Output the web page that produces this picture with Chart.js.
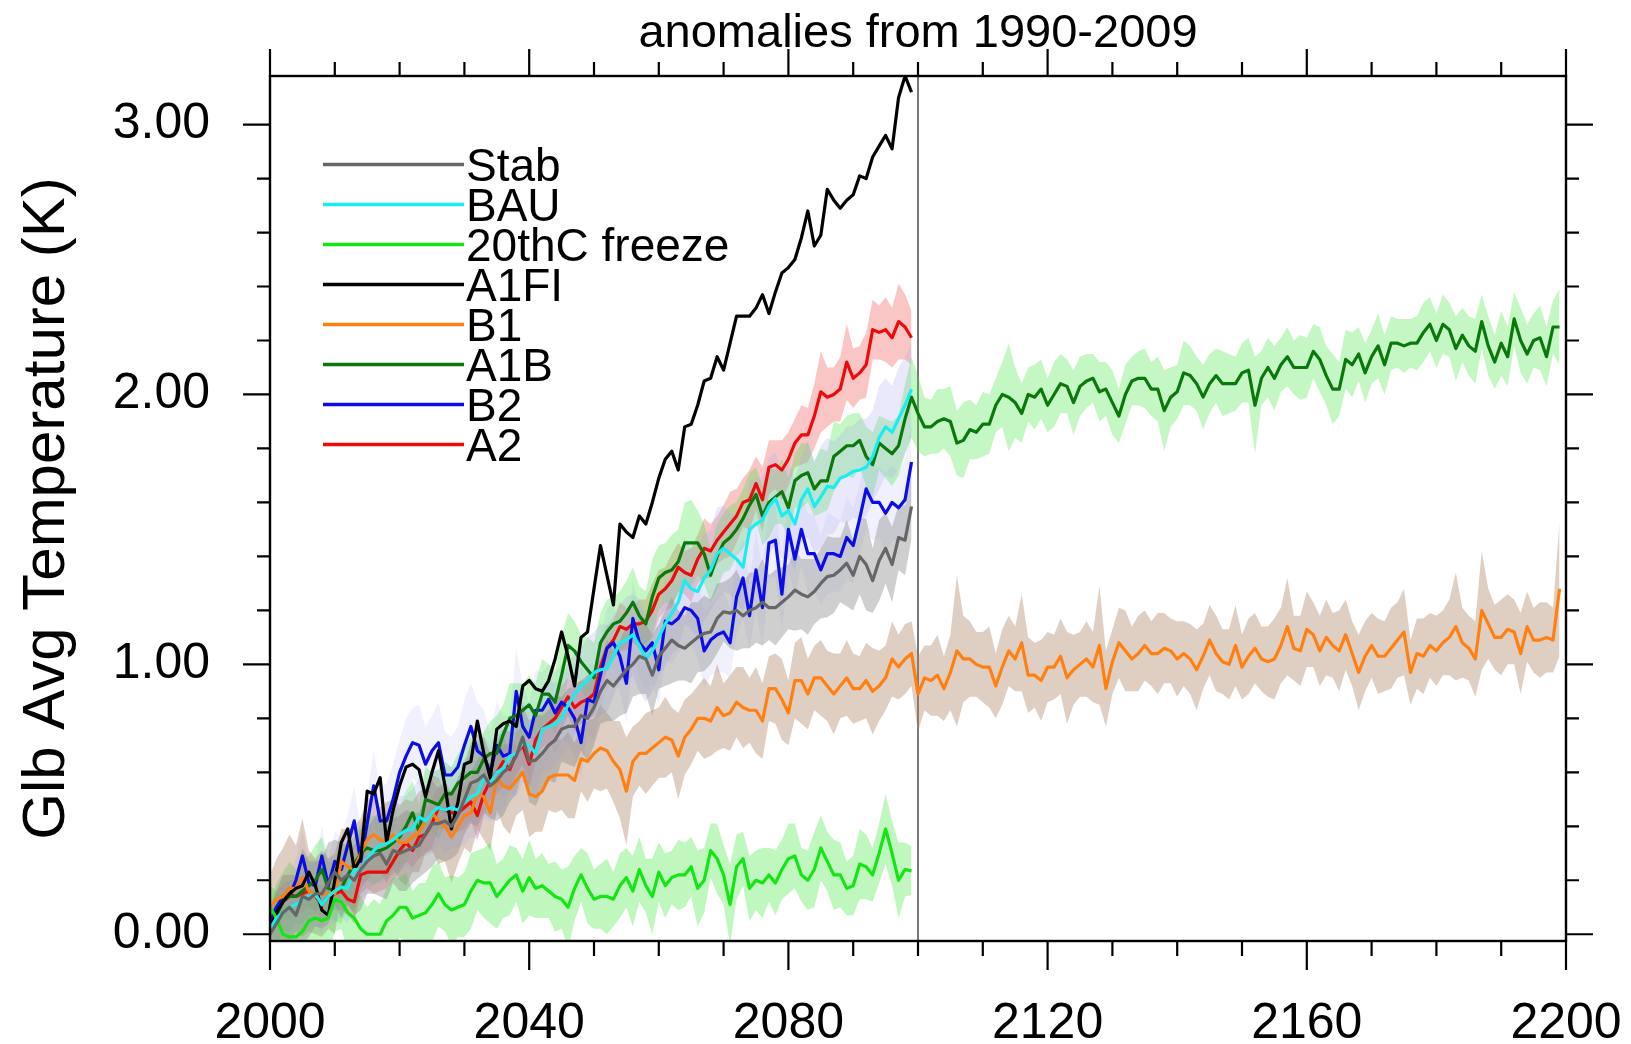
<!DOCTYPE html>
<html><head><meta charset="utf-8">
<script src="https://cdn.jsdelivr.net/npm/chart.js@4.4.1/dist/chart.umd.min.js"></script>
<style>html,body{margin:0;padding:0;background:#fff;overflow:hidden}#wrap{width:1631px;height:1044px;position:relative}</style>
</head><body><div id="wrap"><canvas id="c"></canvas></div>
<script>
const START_YEAR = 2000;
const DIVIDER_YEAR = 2100;
const xTickLabels = [2000, 2040, 2080, 2120, 2160, 2200];
const yTickLabels = [0, 1, 2, 3];
const chartTitle = 'anomalies from 1990-2009';
const yTitle = 'Glb Avg Temperature (K)';
const legendNames = ['Stab', 'BAU', '20thC freeze', 'A1FI', 'B1', 'A1B', 'B2', 'A2'];

const stab = [
0.00,0.04,0.08,0.10,0.07,0.14,0.13,0.15,0.15,0.19,
0.23,0.20,0.22,0.20,0.24,0.27,0.29,0.30,0.26,0.31,
0.30,0.31,0.32,0.33,0.37,0.41,0.41,0.42,0.40,0.44,
0.50,0.56,0.57,0.59,0.55,0.57,0.60,0.62,0.66,0.73,
0.64,0.645,0.67,0.70,0.72,0.76,0.77,0.77,0.81,0.80,
0.84,0.90,0.94,0.92,0.95,0.98,1.00,1.03,1.02,0.96,
1.03,1.06,1.09,1.07,1.06,1.08,1.10,1.115,1.12,1.17,
1.195,1.19,1.20,1.18,1.20,1.21,1.23,1.21,1.21,1.23,
1.25,1.275,1.26,1.25,1.27,1.30,1.325,1.33,1.35,1.375,
1.33,1.40,1.37,1.31,1.385,1.43,1.37,1.47,1.46,1.585];
const stabSpread = [
0.10,0.12,0.14,0.12,0.15,0.18,0.14,0.12,0.13,0.15,
0.12,0.14,0.11,0.13,0.15,0.12,0.14,0.16,0.13,0.12,
0.14,0.15,0.13,0.12,0.14,0.16,0.13,0.15,0.12,0.14,
0.13,0.15,0.17,0.14,0.12,0.15,0.16,0.13,0.14,0.12,
0.15,0.17,0.14,0.13,0.16,0.12,0.14,0.15,0.13,0.16,
0.14,0.12,0.15,0.13,0.14,0.16,0.12,0.14,0.13,0.15,
0.12,0.14,0.16,0.13,0.12,0.15,0.13,0.14,0.12,0.13,
0.11,0.13,0.15,0.12,0.14,0.13,0.16,0.12,0.14,0.13,
0.12,0.15,0.13,0.14,0.12,0.13,0.15,0.14,0.12,0.16,
0.13,0.14,0.17,0.12,0.15,0.13,0.14,0.12,0.13,0.12];

const bau = [
0.02,0.06,0.08,0.10,0.11,0.13,0.14,0.15,0.11,0.14,
0.16,0.175,0.17,0.24,0.24,0.28,0.31,0.33,0.336,0.35,
0.37,0.385,0.39,0.435,0.42,0.45,0.47,0.46,0.47,0.46,
0.49,0.51,0.52,0.58,0.56,0.60,0.615,0.66,0.67,0.71,
0.70,0.67,0.76,0.77,0.78,0.80,0.85,0.89,0.92,0.94,
0.97,0.98,0.985,1.03,1.08,1.09,1.11,1.07,1.02,1.05,
1.10,1.15,1.19,1.23,1.31,1.28,1.27,1.32,1.35,1.41,
1.43,1.41,1.39,1.36,1.50,1.52,1.535,1.585,1.615,1.55,
1.57,1.52,1.61,1.65,1.585,1.62,1.66,1.655,1.69,1.70,
1.715,1.72,1.73,1.77,1.84,1.88,1.86,1.91,1.96,2.02];
const bauSpread = [
0.06,0.08,0.09,0.10,0.09,0.11,0.10,0.12,0.11,0.10,
0.12,0.11,0.13,0.12,0.11,0.13,0.12,0.14,0.13,0.12,
0.14,0.13,0.15,0.14,0.13,0.15,0.14,0.16,0.15,0.14,
0.16,0.15,0.17,0.15,0.14,0.16,0.15,0.14,0.16,0.15,
0.14,0.16,0.15,0.17,0.15,0.14,0.16,0.15,0.14,0.16,
0.15,0.17,0.16,0.15,0.14,0.16,0.15,0.17,0.16,0.15,
0.14,0.16,0.15,0.17,0.16,0.15,0.17,0.16,0.15,0.17,
0.16,0.15,0.17,0.16,0.18,0.17,0.16,0.18,0.17,0.16,
0.18,0.17,0.16,0.18,0.17,0.19,0.18,0.17,0.16,0.18,
0.17,0.19,0.18,0.17,0.19,0.18,0.17,0.19,0.18,0.17];

const freeze = [
0.10,0.06,0.00,-0.01,-0.01,0.01,0.05,0.06,0.05,0.06,
0.13,0.12,0.08,0.06,0.02,0.00,0.00,0.00,0.05,0.07,
0.10,0.10,0.06,0.07,0.08,0.11,0.15,0.11,0.09,0.10,
0.11,0.16,0.20,0.19,0.19,0.14,0.17,0.20,0.22,0.16,
0.21,0.17,0.18,0.16,0.14,0.13,0.10,0.17,0.22,0.17,
0.13,0.14,0.14,0.13,0.18,0.21,0.16,0.24,0.18,0.14,
0.23,0.18,0.21,0.22,0.22,0.25,0.17,0.20,0.31,0.28,
0.22,0.11,0.25,0.28,0.17,0.20,0.19,0.22,0.19,0.24,
0.28,0.29,0.22,0.20,0.24,0.32,0.27,0.22,0.22,0.17,
0.18,0.26,0.25,0.22,0.30,0.39,0.30,0.20,0.24,0.235];
const freezeSpread = [
0.08,0.10,0.12,0.10,0.11,0.13,0.10,0.12,0.11,0.13,
0.12,0.10,0.14,0.11,0.12,0.10,0.13,0.11,0.12,0.14,
0.11,0.13,0.10,0.12,0.11,0.14,0.12,0.10,0.13,0.11,
0.12,0.14,0.11,0.13,0.15,0.12,0.11,0.13,0.10,0.12,
0.14,0.11,0.12,0.10,0.13,0.11,0.15,0.12,0.10,0.13,
0.11,0.12,0.14,0.10,0.12,0.11,0.13,0.12,0.10,0.14,
0.11,0.12,0.10,0.13,0.12,0.11,0.14,0.12,0.10,0.13,
0.11,0.15,0.12,0.10,0.12,0.11,0.13,0.10,0.12,0.11,
0.13,0.12,0.10,0.11,0.14,0.12,0.11,0.13,0.12,0.10,
0.11,0.13,0.12,0.10,0.11,0.13,0.12,0.14,0.10,0.09];

const a1fi = [
0.02,0.08,0.12,0.15,0.17,0.18,0.23,0.18,0.09,0.07,
0.20,0.34,0.39,0.24,0.28,0.53,0.52,0.58,0.34,0.46,
0.55,0.62,0.63,0.61,0.51,0.60,0.68,0.55,0.39,0.49,
0.63,0.64,0.79,0.67,0.58,0.76,0.78,0.79,0.77,0.92,
0.94,0.91,0.90,0.94,1.02,1.12,1.03,0.92,1.10,1.12,
1.28,1.44,1.33,1.22,1.52,1.49,1.47,1.55,1.52,1.60,
1.69,1.76,1.79,1.72,1.88,1.89,1.96,2.05,2.06,2.14,
2.09,2.19,2.29,2.29,2.29,2.32,2.37,2.30,2.38,2.45,
2.47,2.50,2.58,2.68,2.55,2.59,2.76,2.72,2.69,2.72,
2.74,2.81,2.80,2.88,2.92,2.96,2.91,3.10,3.18,3.12];

const b1 = [
0.10,0.13,0.14,0.17,0.17,0.21,0.16,0.14,0.15,0.15,
0.15,0.27,0.25,0.24,0.30,0.35,0.37,0.35,0.34,0.37,
0.34,0.34,0.36,0.38,0.42,0.45,0.42,0.40,0.36,0.40,
0.44,0.45,0.52,0.51,0.45,0.58,0.55,0.54,0.57,0.60,
0.52,0.51,0.53,0.58,0.59,0.59,0.59,0.57,0.65,0.64,
0.67,0.69,0.68,0.64,0.61,0.53,0.64,0.67,0.67,0.69,
0.71,0.73,0.72,0.66,0.73,0.76,0.80,0.80,0.79,0.84,
0.81,0.82,0.86,0.84,0.83,0.83,0.79,0.91,0.91,0.87,
0.82,0.94,0.94,0.89,0.95,0.95,0.92,0.89,0.92,0.95,
0.91,0.91,0.94,0.90,0.92,0.95,1.02,0.99,1.02,1.04,
0.89,0.95,0.94,0.96,0.91,0.97,1.05,1.02,1.02,1.00,
0.99,0.99,0.92,0.99,1.05,1.02,1.08,0.96,0.96,0.94,
0.99,0.99,1.03,0.95,0.98,1.00,1.02,0.99,1.07,0.91,
1.01,1.08,1.05,1.02,1.04,1.07,1.04,1.04,1.06,1.05,
1.02,1.04,1.02,0.98,1.03,1.09,1.04,1.01,1.00,1.07,
0.99,1.03,1.06,1.02,1.01,1.02,1.07,1.14,1.06,1.05,
1.13,1.11,1.05,1.10,1.07,1.05,1.11,1.04,0.97,1.03,
1.07,1.03,1.03,1.06,1.09,1.12,0.97,1.04,1.03,1.07,
1.05,1.08,1.10,1.14,1.08,1.06,1.02,1.20,1.15,1.10,
1.10,1.13,1.12,1.04,1.14,1.09,1.09,1.10,1.09,1.28];
const b1Spread = [
0.12,0.15,0.18,0.20,0.16,0.22,0.15,0.14,0.16,0.13,
0.15,0.12,0.14,0.16,0.13,0.15,0.14,0.12,0.15,0.13,
0.14,0.16,0.13,0.15,0.12,0.14,0.16,0.13,0.17,0.14,
0.12,0.15,0.13,0.16,0.14,0.12,0.15,0.17,0.13,0.14,
0.16,0.13,0.15,0.12,0.14,0.13,0.16,0.14,0.12,0.15,
0.13,0.16,0.14,0.15,0.18,0.20,0.13,0.12,0.15,0.14,
0.13,0.15,0.12,0.16,0.14,0.13,0.12,0.15,0.13,0.16,
0.12,0.14,0.13,0.15,0.12,0.16,0.14,0.12,0.13,0.15,
0.12,0.14,0.16,0.13,0.12,0.14,0.13,0.15,0.12,0.14,
0.13,0.12,0.14,0.16,0.13,0.12,0.14,0.12,0.13,0.12,
0.14,0.12,0.13,0.15,0.12,0.14,0.28,0.16,0.14,0.12,
0.13,0.15,0.12,0.14,0.13,0.12,0.18,0.14,0.12,0.15,
0.13,0.12,0.14,0.17,0.13,0.12,0.14,0.13,0.22,0.14,
0.12,0.13,0.15,0.12,0.14,0.13,0.12,0.15,0.13,0.12,
0.14,0.12,0.13,0.15,0.12,0.13,0.14,0.12,0.13,0.15,
0.12,0.14,0.13,0.12,0.13,0.15,0.14,0.18,0.12,0.13,
0.14,0.12,0.13,0.14,0.12,0.15,0.13,0.12,0.14,0.13,
0.12,0.14,0.13,0.15,0.14,0.16,0.12,0.13,0.14,0.12,
0.13,0.12,0.14,0.20,0.13,0.12,0.14,0.22,0.13,0.12,
0.14,0.13,0.12,0.15,0.13,0.12,0.14,0.13,0.12,0.25];

const a1b = [
0.02,0.07,0.12,0.14,0.14,0.16,0.18,0.20,0.24,0.17,
0.16,0.17,0.22,0.26,0.30,0.32,0.31,0.31,0.32,0.34,
0.36,0.40,0.45,0.38,0.50,0.49,0.48,0.52,0.52,0.56,
0.58,0.60,0.60,0.65,0.67,0.67,0.74,0.80,0.81,0.83,
0.85,0.81,0.89,0.89,0.86,0.96,1.07,1.05,1.01,0.98,
0.95,1.08,1.12,1.15,1.16,1.19,1.23,1.18,1.15,1.25,
1.32,1.34,1.35,1.38,1.45,1.45,1.45,1.41,1.33,1.40,
1.45,1.47,1.50,1.54,1.59,1.63,1.55,1.60,1.62,1.64,
1.58,1.68,1.70,1.71,1.65,1.68,1.68,1.77,1.79,1.81,
1.81,1.83,1.77,1.74,1.82,1.80,1.78,1.81,1.91,1.99,
1.93,1.88,1.88,1.90,1.91,1.90,1.82,1.83,1.87,1.86,
1.89,1.89,1.96,2.00,1.99,1.97,1.93,2.00,1.99,2.02,
1.96,2.00,2.04,2.03,1.97,2.03,2.05,2.06,2.01,2.02,
1.97,1.92,2.00,2.05,2.06,2.06,2.02,2.02,1.94,1.99,
2.01,2.08,2.07,2.04,1.99,2.04,2.07,2.04,2.04,2.04,
2.08,2.09,1.96,2.06,2.10,2.06,2.11,2.14,2.10,2.10,
2.10,2.16,2.13,2.07,2.02,2.02,2.13,2.11,2.15,2.08,
2.14,2.18,2.11,2.19,2.19,2.18,2.19,2.19,2.23,2.26,
2.20,2.26,2.24,2.17,2.22,2.18,2.16,2.27,2.18,2.12,
2.19,2.14,2.28,2.20,2.15,2.20,2.21,2.14,2.25,2.25];
const a1bSpread = [
0.10,0.12,0.11,0.13,0.10,0.12,0.11,0.13,0.12,0.10,
0.11,0.13,0.12,0.10,0.11,0.12,0.13,0.11,0.10,0.12,
0.11,0.13,0.12,0.10,0.12,0.11,0.13,0.12,0.10,0.11,
0.12,0.13,0.11,0.10,0.12,0.14,0.11,0.13,0.12,0.10,
0.11,0.12,0.13,0.11,0.12,0.14,0.12,0.11,0.10,0.12,
0.13,0.11,0.12,0.10,0.11,0.12,0.13,0.11,0.12,0.14,
0.12,0.11,0.13,0.12,0.15,0.16,0.12,0.11,0.10,0.12,
0.11,0.12,0.10,0.11,0.12,0.10,0.11,0.13,0.10,0.12,
0.11,0.10,0.12,0.11,0.10,0.12,0.11,0.13,0.10,0.11,
0.12,0.10,0.11,0.12,0.10,0.11,0.12,0.11,0.13,0.15,
0.14,0.11,0.10,0.12,0.11,0.13,0.12,0.14,0.11,0.10,
0.12,0.11,0.10,0.12,0.20,0.13,0.11,0.10,0.12,0.11,
0.10,0.12,0.11,0.10,0.12,0.11,0.10,0.09,0.11,0.10,
0.12,0.10,0.11,0.09,0.10,0.11,0.10,0.12,0.15,0.11,
0.10,0.12,0.11,0.10,0.12,0.11,0.10,0.12,0.11,0.10,
0.11,0.12,0.18,0.10,0.11,0.12,0.10,0.11,0.10,0.12,
0.11,0.10,0.12,0.11,0.13,0.10,0.11,0.12,0.10,0.11,
0.10,0.12,0.11,0.10,0.09,0.10,0.09,0.10,0.11,0.10,
0.10,0.11,0.10,0.12,0.10,0.11,0.12,0.10,0.11,0.10,
0.12,0.11,0.10,0.12,0.11,0.10,0.12,0.11,0.10,0.14];

const b2 = [
0.04,0.10,0.14,0.14,0.20,0.29,0.19,0.18,0.29,0.18,
0.27,0.24,0.33,0.42,0.27,0.41,0.55,0.42,0.42,0.50,
0.60,0.66,0.71,0.70,0.63,0.68,0.71,0.59,0.59,0.62,
0.70,0.77,0.68,0.66,0.60,0.70,0.66,0.67,0.90,0.77,
0.73,0.83,0.83,0.87,0.82,0.86,0.84,0.80,0.71,0.87,
0.86,0.96,1.06,1.08,1.03,0.93,1.17,1.08,1.05,1.08,
0.98,1.16,1.15,1.17,1.21,1.20,1.17,1.05,1.09,1.11,
1.12,1.08,1.25,1.32,1.18,1.35,1.21,1.45,1.46,1.26,
1.50,1.39,1.50,1.41,1.41,1.35,1.41,1.41,1.40,1.47,
1.44,1.54,1.65,1.60,1.60,1.56,1.60,1.58,1.61,1.75];
const b2Spread = [
0.06,0.07,0.08,0.09,0.08,0.10,0.09,0.10,0.11,0.10,
0.11,0.12,0.11,0.13,0.12,0.11,0.13,0.12,0.14,0.13,
0.12,0.14,0.13,0.15,0.14,0.13,0.15,0.16,0.14,0.15,
0.17,0.16,0.18,0.17,0.15,0.16,0.15,0.14,0.16,0.15,
0.13,0.15,0.14,0.13,0.15,0.14,0.13,0.15,0.14,0.13,
0.14,0.13,0.15,0.14,0.13,0.15,0.14,0.13,0.14,0.15,
0.13,0.14,0.15,0.13,0.14,0.13,0.15,0.14,0.13,0.14,
0.15,0.13,0.14,0.15,0.13,0.14,0.15,0.13,0.14,0.13,
0.15,0.14,0.13,0.15,0.14,0.13,0.15,0.14,0.13,0.15,
0.14,0.13,0.15,0.14,0.13,0.15,0.14,0.13,0.15,0.14];

const a2 = [
0.05,0.10,0.13,0.15,0.14,0.15,0.16,0.14,0.11,0.14,
0.15,0.16,0.13,0.12,0.22,0.23,0.23,0.23,0.23,0.27,
0.31,0.34,0.31,0.36,0.37,0.41,0.47,0.46,0.45,0.45,
0.47,0.49,0.44,0.52,0.57,0.60,0.64,0.61,0.67,0.70,
0.63,0.72,0.76,0.78,0.80,0.84,0.88,0.84,0.86,0.87,
0.89,0.99,1.06,1.09,1.14,1.13,1.15,1.15,1.16,1.20,
1.26,1.28,1.31,1.36,1.34,1.33,1.39,1.43,1.42,1.46,
1.49,1.52,1.55,1.60,1.61,1.67,1.61,1.73,1.74,1.72,
1.76,1.82,1.85,1.85,1.92,2.01,1.99,2.00,2.02,2.12,
2.06,2.08,2.11,2.24,2.23,2.24,2.21,2.27,2.25,2.21];
const a2Spread = [
0.04,0.05,0.06,0.05,0.06,0.07,0.06,0.05,0.07,0.06,
0.06,0.07,0.06,0.08,0.07,0.06,0.08,0.07,0.06,0.07,
0.08,0.07,0.06,0.08,0.07,0.09,0.08,0.07,0.08,0.07,
0.08,0.07,0.09,0.08,0.07,0.08,0.09,0.07,0.08,0.07,
0.09,0.08,0.07,0.08,0.09,0.08,0.07,0.09,0.08,0.07,
0.08,0.09,0.08,0.07,0.09,0.08,0.07,0.09,0.08,0.10,
0.09,0.08,0.10,0.09,0.08,0.10,0.09,0.11,0.10,0.09,
0.10,0.12,0.10,0.09,0.11,0.10,0.12,0.10,0.09,0.11,
0.10,0.09,0.11,0.10,0.12,0.15,0.11,0.10,0.12,0.14,
0.11,0.10,0.12,0.11,0.10,0.12,0.11,0.14,0.12,0.10];

const FONT = "'Liberation Sans', Arial, Helvetica, sans-serif";

const series = [
  {name: legendNames[0], values: stab,   spread: stabSpread,   color: '#666666', band: 'rgba(140,140,140,0.42)'},
  {name: legendNames[1], values: bau,    spread: bauSpread,    color: '#18eef2', band: 'rgba(170,170,240,0.26)'},
  {name: legendNames[2], values: freeze, spread: freezeSpread, color: '#14e614', band: 'rgba(60,230,60,0.33)'},
  {name: legendNames[3], values: a1fi,   spread: null,         color: '#000000', band: null},
  {name: legendNames[4], values: b1,     spread: b1Spread,     color: '#ff8010', band: 'rgba(170,130,95,0.38)'},
  {name: legendNames[5], values: a1b,    spread: a1bSpread,    color: '#0b780b', band: 'rgba(60,230,60,0.30)'},
  {name: legendNames[6], values: b2,     spread: b2Spread,     color: '#0c0ce8', band: 'rgba(170,170,240,0.16)'},
  {name: legendNames[7], values: a2,     spread: a2Spread,     color: '#ec0a0a', band: 'rgba(240,90,90,0.35)'}
];

function toPoints(vals) { return vals.map((v, i) => ({x: START_YEAR + i, y: v})); }
function bandEdge(vals, spr, sign) {
  const n = Math.min(vals.length, spr.length);
  const out = [];
  for (let i = 0; i < n; i++) out.push({x: START_YEAR + i, y: vals[i] + sign * spr[i]});
  return out;
}

const datasets = [];
series.forEach((s, k) => {
  datasets.push({label: s.name, data: toPoints(s.values), borderColor: s.color, backgroundColor: s.color,
    borderWidth: 3.2, pointRadius: 0, fill: false, tension: 0, order: k, borderJoinStyle: 'round'});
});
series.forEach((s, k) => {
  if (!s.spread) return;
  datasets.push({label: s.name + ' hi', data: bandEdge(s.values, s.spread, 1), borderWidth: 0, borderColor: 'rgba(0,0,0,0)',
    pointRadius: 0, fill: '+1', backgroundColor: s.band, tension: 0, order: 20 + k});
  datasets.push({label: s.name + ' lo', data: bandEdge(s.values, s.spread, -1), borderWidth: 0, borderColor: 'rgba(0,0,0,0)',
    pointRadius: 0, fill: false, tension: 0, order: 20 + k});
});

const decor = {
  id: 'decor',
  beforeDatasetsDraw(chart) {
    const {ctx, chartArea: a, scales: {x}} = chart;
    const px = x.getPixelForValue(DIVIDER_YEAR);
    ctx.save();
    ctx.strokeStyle = '#4a4a4a'; ctx.lineWidth = 1.5;
    ctx.beginPath(); ctx.moveTo(px, a.top); ctx.lineTo(px, a.bottom); ctx.stroke();
    ctx.restore();
  },
  afterDraw(chart) {
    const {ctx, chartArea: a, scales: {x, y}} = chart;
    ctx.save();
    ctx.strokeStyle = '#000'; ctx.lineWidth = 2.4;
    ctx.strokeRect(a.left, a.top, a.right - a.left, a.bottom - a.top);
    ctx.lineWidth = 2.2;
    ctx.beginPath();
    for (let yr = x.min; yr <= x.max + 0.001; yr += 10) {
      const major = xTickLabels.includes(yr);
      const px = x.getPixelForValue(yr);
      const lenB = major ? 29 : 15, lenT = major ? 27 : 14;
      ctx.moveTo(px, a.bottom); ctx.lineTo(px, a.bottom + lenB);
      ctx.moveTo(px, a.top); ctx.lineTo(px, a.top - lenT);
    }
    for (let i = 0; i <= 15; i++) {
      const v = i * 0.2;
      if (v < y.min || v > y.max) continue;
      const major = Math.abs(v - Math.round(v)) < 1e-6;
      const py = y.getPixelForValue(v);
      const len = major ? 27 : 13;
      ctx.moveTo(a.left, py); ctx.lineTo(a.left - len, py);
      ctx.moveTo(a.right, py); ctx.lineTo(a.right + len, py);
    }
    ctx.stroke();
    ctx.fillStyle = '#000';
    ctx.font = '47px ' + FONT;
    ctx.textAlign = 'center'; ctx.textBaseline = 'alphabetic';
    ctx.fillText(chartTitle, (a.left + a.right) / 2, 47);
    const lx0 = 323, lx1 = 464, ly0 = 164.5, step = 40, fs = 46;
    ctx.font = fs + 'px ' + FONT;
    ctx.textAlign = 'left';
    series.forEach((s, k) => {
      const ly = ly0 + k * step;
      ctx.strokeStyle = s.color; ctx.lineWidth = 3.4;
      ctx.beginPath(); ctx.moveTo(lx0, ly); ctx.lineTo(lx1, ly); ctx.stroke();
      ctx.fillStyle = '#000';
      ctx.fillText(s.name, lx1 + 2, ly + fs * 0.716 / 2);
    });
    ctx.restore();
  }
};

function noScalePadding(s) { s.paddingLeft = 0; s.paddingRight = 0; s.paddingTop = 0; s.paddingBottom = 0; }

Chart.defaults.font.family = FONT;
new Chart(document.getElementById('c'), {
  type: 'line',
  data: {datasets},
  plugins: [decor],
  options: {
    responsive: true, maintainAspectRatio: false, animation: false,
    layout: {padding: {left: 0, right: 65, top: 76, bottom: 0}},
    plugins: {legend: {display: false}, title: {display: false}, tooltip: {enabled: false}},
    elements: {point: {radius: 0}, line: {tension: 0}},
    scales: {
      x: {
        type: 'linear', min: 2000, max: 2200,
        grid: {display: false, drawTicks: false}, border: {display: false},
        afterBuildTicks: s => { s.ticks = xTickLabels.map(v => ({value: v})); },
        afterFit: s => { s.height = 103; noScalePadding(s); },
        ticks: {font: {size: 50}, color: '#000', padding: 53, maxRotation: 0, autoSkip: false,
                callback: v => String(v)}
      },
      y: {
        type: 'linear', min: -0.025, max: 3.18,
        grid: {display: false, drawTicks: false}, border: {display: false},
        afterBuildTicks: s => { s.ticks = yTickLabels.map(v => ({value: v})); },
        afterFit: s => { s.width = 270; noScalePadding(s); },
        ticks: {font: {size: 50}, color: '#000', padding: 60, callback: v => Number(v).toFixed(2)},
        title: {display: true, text: yTitle, color: '#000', font: {size: 60}, padding: {top: 11, bottom: 0}}
      }
    }
  }
});
</script></body></html>
